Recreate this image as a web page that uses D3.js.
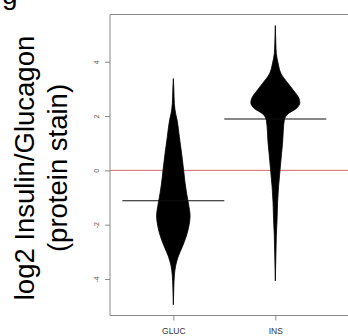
<!DOCTYPE html>
<html>
<head>
<meta charset="utf-8">
<script src="https://cdn.jsdelivr.net/npm/d3@7"></script>
<style>
  html, body { margin: 0; padding: 0; background: #fff; }
  svg { display: block; font-family: "Liberation Sans", Arial, Helvetica, sans-serif; }
</style>
</head>
<body>
<svg id="chart" width="348" height="336"></svg>
<script>
// ---- data ----
const categories = ["GLUC", "INS"];
const means = [-1.12, 1.89];
const referenceLine = 0;
const yTicks = [-4, -2, 0, 2, 4];

// bean profiles: log2 value and relative density
const glucValues  = [3.38, 3.0, 2.46, 2.1, 1.85, 1.24, 0.63, 0.02, -0.47, -0.84, -1.20, -1.69, -2.06, -2.42, -2.79, -3.16, -3.52, -3.89, -4.3, -4.95];
const glucDensity = [0.0, 0.02, 0.04, 0.09, 0.15, 0.24, 0.33, 0.41, 0.47, 0.53, 0.60, 0.67, 0.62, 0.52, 0.37, 0.20, 0.09, 0.04, 0.02, 0.0];

const insValues  = [5.33, 4.7, 4.3, 3.95, 3.56, 3.19, 2.95, 2.64, 2.50, 2.27, 2.09, 1.85, 1.48, 1.0, 0.63, 0.02, -0.59, -1.2, -1.81, -2.42, -3.04, -4.07];
const insDensity = [0.0, 0.02, 0.04, 0.11, 0.23, 0.52, 0.72, 0.95, 0.98, 0.83, 0.52, 0.36, 0.32, 0.29, 0.25, 0.19, 0.13, 0.09, 0.07, 0.04, 0.025, 0.0];

const beans = [
  { name: categories[0], values: glucValues, density: glucDensity, mean: means[0] },
  { name: categories[1], values: insValues,  density: insDensity,  mean: means[1] }
];

// ---- layout ----
const svg = d3.select("#chart");
const mLeft = 110, mRight = 362, mTop = 14.5, mBottom = 315.5;

const x = d3.scaleLinear().domain([0.379, 2.85]).range([mLeft, mRight]);
const y = d3.scaleLinear().domain([-5.344, 5.738]).range([mBottom, mTop]);
const w = d3.scaleLinear().domain([0, 1]).range([0, 25]);

// reference line
svg.append("line")
  .attr("x1", mLeft).attr("x2", mRight)
  .attr("y1", y(referenceLine)).attr("y2", y(referenceLine))
  .attr("stroke", "#d46a6a").attr("stroke-width", 1);

// beans
const area = d3.area()
  .curve(d3.curveMonotoneY)
  .y(d => y(d.v))
  .x0(d => d.cx - w(d.d))
  .x1(d => d.cx + w(d.d));

beans.forEach((b, i) => {
  const cx = x(i + 1);
  const pts = b.values.map((v, j) => ({ v, d: b.density[j], cx }));
  svg.append("path")
    .attr("d", area(pts))
    .attr("fill", "#000")
    .attr("stroke", "#000")
    .attr("stroke-width", 0.8)
    .attr("stroke-linejoin", "round");
  // mean line
  svg.append("line")
    .attr("x1", x(i + 1 - 0.5)).attr("x2", x(i + 1 + 0.5))
    .attr("y1", y(b.mean)).attr("y2", y(b.mean))
    .attr("stroke", "#111").attr("stroke-width", 1.2);
});

// frame
svg.append("path")
  .attr("d", `M${mRight},${mTop}H${mLeft}V${mBottom}H${mRight}`)
  .attr("fill", "none").attr("stroke", "#8a8a8a").attr("stroke-width", 1);

// y axis ticks
const yAxis = d3.axisLeft(y).tickValues(yTicks).tickSize(5).tickPadding(0).tickFormat(d3.format("d"));
const gy = svg.append("g").attr("transform", `translate(${mLeft},0)`).call(yAxis);
gy.select(".domain").remove();
gy.selectAll(".tick line").attr("stroke", "#8a8a8a");
gy.selectAll(".tick text")
  .attr("x", null).attr("dy", null)
  .attr("transform", "translate(-13,0) rotate(-90)")
  .attr("text-anchor", "middle")
  .attr("dominant-baseline", "middle")
  .attr("fill", "#555")
  .style("font-size", "7px")
  .text(d => d < 0 ? "-" + Math.abs(d) : d);

// x axis ticks
const xAxis = d3.axisBottom(x).tickValues([1, 2]).tickSize(5).tickPadding(7).tickFormat((d, i) => categories[i]);
const gx = svg.append("g").attr("transform", `translate(0,${mBottom})`).call(xAxis);
gx.select(".domain").remove();
gx.selectAll(".tick line").attr("stroke", "#8a8a8a");
gx.selectAll(".tick text").attr("fill", "#333").style("font-size", "8.5px");

// y label
const labelY = 168;
svg.append("text")
  .attr("transform", `translate(34,${labelY}) rotate(-90)`)
  .attr("text-anchor", "middle")
  .style("font-size", "27.5px")
  .attr("fill", "#000")
  .text("log2 Insulin/Glucagon");
svg.append("text")
  .attr("transform", `translate(67,${labelY}) rotate(-90)`)
  .attr("text-anchor", "middle")
  .style("font-size", "27.5px")
  .attr("fill", "#000")
  .text("(protein stain)");

// panel letter (cut off at the top)
svg.append("text")
  .attr("x", 2).attr("y", 4)
  .style("font-size", "28px")
  .attr("fill", "#000")
  .text("g");
</script>
</body>
</html>
